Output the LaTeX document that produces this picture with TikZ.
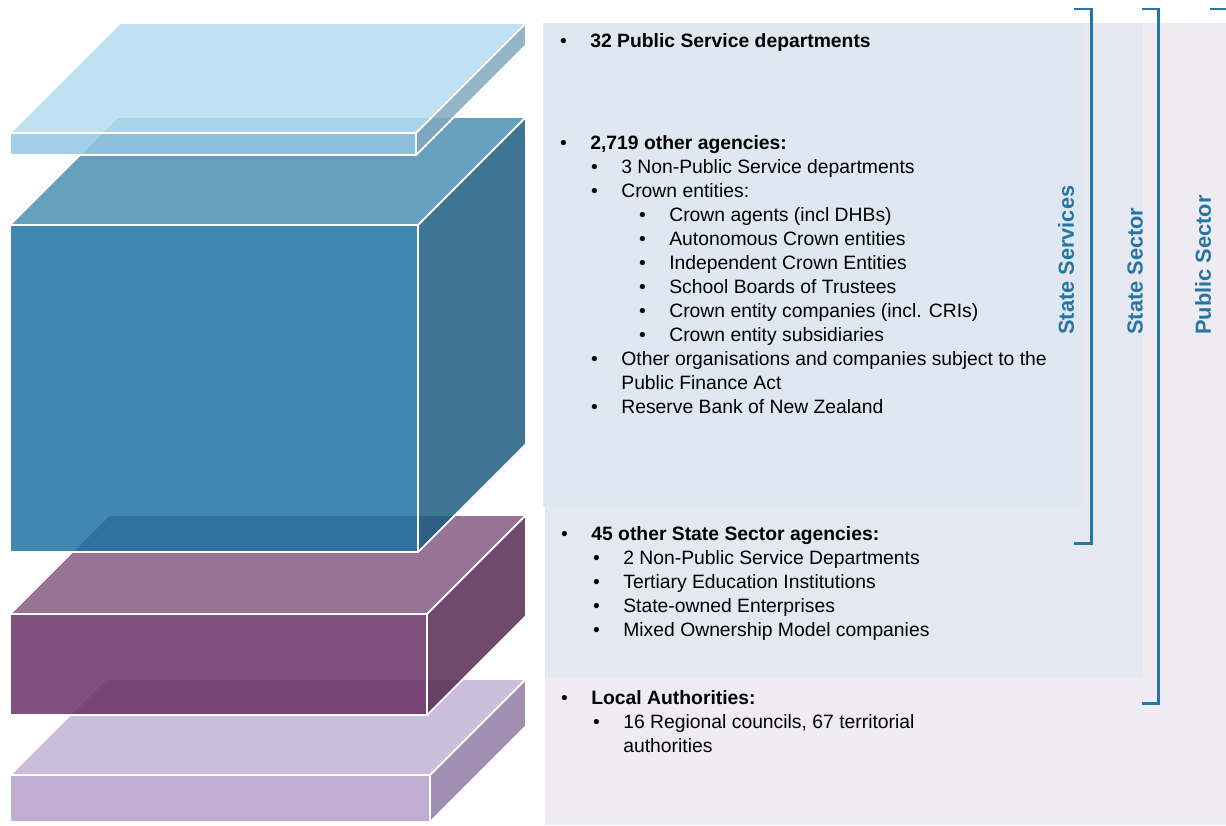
\documentclass[tikz,border=0pt]{standalone}
\usepackage{fontspec}
\setmainfont{Liberation Sans}
\definecolor{topA}{RGB}{181,220,240}
\definecolor{frontA}{RGB}{147,200,226}
\definecolor{sideA}{RGB}{128,168,190}
\definecolor{topB}{RGB}{76,143,179}
\definecolor{frontB}{RGB}{30,115,161}
\definecolor{sideB}{RGB}{27,93,127}
\definecolor{topC}{RGB}{133,91,130}
\definecolor{frontC}{RGB}{104,49,100}
\definecolor{sideC}{RGB}{86,42,82}
\definecolor{topD}{RGB}{194,177,214}
\definecolor{frontD}{RGB}{180,160,202}
\definecolor{sideD}{RGB}{143,123,162}
\definecolor{pubpanel}{RGB}{239,235,242}
\definecolor{secpanel}{RGB}{230,232,241}
\definecolor{svcpanel}{RGB}{223,231,241}
\definecolor{brk}{RGB}{38,117,163}
\begin{document}
\begin{tikzpicture}[x=0.02cm, y=-0.02cm,
    face/.style={draw=white, line width=1pt, line join=round, fill opacity=0.85},
    bracket/.style={draw=brk, line width=1.7pt},
    sidelabel/.style={rotate=90, anchor=west, inner sep=0pt, text=brk, font=\fontsize{12.4}{15}\selectfont\bfseries},
    lvl/.style={anchor=base west, inner sep=0pt, execute at begin node={\llap{\textbullet\hspace{0.47cm}}}},
    cont/.style={anchor=base west, inner sep=0pt}]
    \tikzstyle{every node}=[font=\fontsize{11}{13.66}\selectfont]
    \clip (0,0) rectangle (1226,825);

      \fill[pubpanel] (545,23) rectangle (1226,825);
      \fill[secpanel] (545,23) rectangle (1143,677);
      \fill[svcpanel] (543,23) rectangle (1082,507);

      \foreach \n/\xl/\xr/\yt/\yb/\d in {D/10/430/775/822/96, C/10/427/614/715/99, B/10/418/225/552/108, A/10/416/133/155/110} {
        \filldraw[face, fill=top\n] (\xl,\yt) -- (\xr,\yt) -- (\xr+\d,\yt-\d) -- (\xl+\d,\yt-\d) -- cycle;
        \filldraw[face, fill=front\n] (\xl,\yt) rectangle (\xr,\yb);
        \filldraw[face, fill=side\n] (\xr,\yt) -- (\xr+\d,\yt-\d) -- (\xr+\d,\yb-\d) -- (\xr,\yb) -- cycle;
      }

      \node[lvl] (1) at (590,47) {\bfseries 32 Public Service departments};
      \node[lvl] (2) at (590,149) {\bfseries 2,719 other agencies:};
      \node[lvl] (3) at (621,173) {3 Non-Public Service departments};
      \node[lvl] (4) at (621,197) {Crown entities:};
      \node[lvl] (5) at (669,221) {Crown agents (incl DHBs)};
      \node[lvl] (6) at (669,245) {Autonomous Crown entities};
      \node[lvl] (7) at (669,269) {Independent Crown Entities};
      \node[lvl] (8) at (669,293) {School Boards of Trustees};
      \node[lvl] (9) at (669,317) {Crown entity companies (incl. CRIs)};
      \node[lvl] (10) at (669,341) {Crown entity subsidiaries};
      \node[lvl] (11) at (621,365) {Other organisations and companies subject to the};
      \node[cont] (12) at (621,389) {Public Finance Act};
      \node[lvl] (13) at (621,413) {Reserve Bank of New Zealand};

      \node[lvl] (14) at (591,540) {\bfseries 45 other State Sector agencies:};
      \node[lvl] (15) at (623,564) {2 Non-Public Service Departments};
      \node[lvl] (16) at (623,588) {Tertiary Education Institutions};
      \node[lvl] (17) at (623,612) {State-owned Enterprises};
      \node[lvl] (18) at (623,636) {Mixed Ownership Model companies};

      \node[lvl] (19) at (591,704) {\bfseries Local Authorities:};
      \node[lvl] (20) at (623,728) {16 Regional councils, 67 territorial};
      \node[cont] (21) at (623,752) {authorities};

      \draw[bracket] (1074,9) -- (1091,9) -- (1091,543) -- (1074,543);
      \draw[bracket] (1142,9) -- (1158,9) -- (1158,703) -- (1142,703);
      \draw[bracket] (1210,9) -- (1234,9) -- (1234,830);

      \node[sidelabel] (ss) at (1066,335) {State Services};
      \node[sidelabel] (sc) at (1135,335) {State Sector};
      \node[sidelabel] (ps) at (1203,335) {Public Sector};

\end{tikzpicture}
\end{document}
